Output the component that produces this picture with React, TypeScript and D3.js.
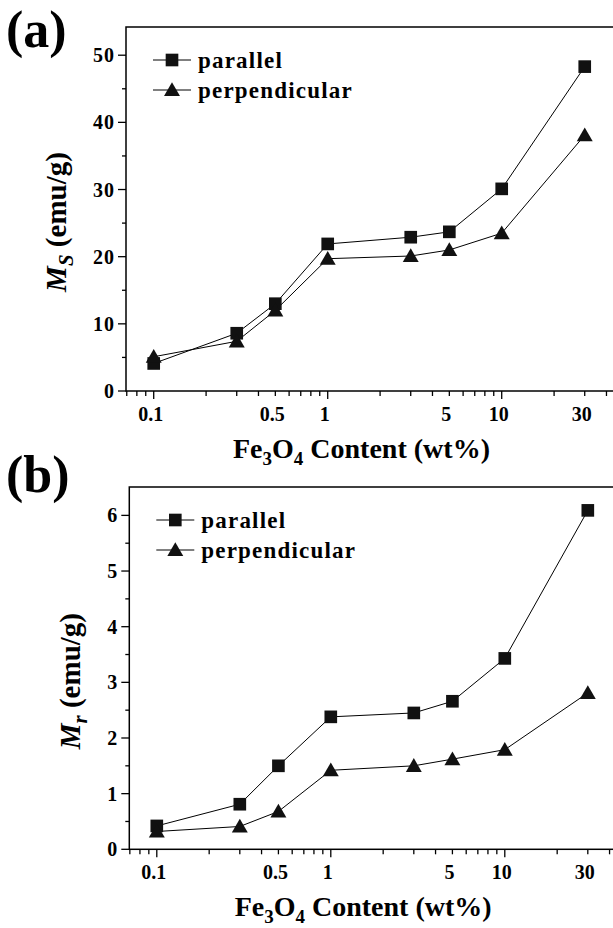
import React from "react";
import * as d3 from "d3";

// Fe3O4 content (wt%)
const contents = [0.1, 0.3, 0.5, 1, 3, 5, 10, 30];

// panel (a): saturation magnetization Ms (emu/g)
const msParallel = [4.1, 8.6, 13.0, 21.9, 22.9, 23.7, 30.1, 48.3];
const msPerpendicular = [5.1, 7.4, 12.0, 19.7, 20.1, 21.0, 23.5, 38.1];

// panel (b): remanent magnetization Mr (emu/g)
const mrParallel = [0.42, 0.81, 1.5, 2.38, 2.45, 2.66, 3.43, 6.09];
const mrPerpendicular = [0.32, 0.41, 0.68, 1.42, 1.5, 1.62, 1.79, 2.81];

const xLabels = [0.1, 0.5, 1, 5, 10, 30];
const xMajor = [0.1, 1, 10];
const yTicksA = [0, 10, 20, 30, 40, 50];
const yMinorA = [5, 15, 25, 35, 45];
const yTicksB = [0, 1, 2, 3, 4, 5, 6];
const yMinorB = [0.5, 1.5, 2.5, 3.5, 4.5, 5.5];

const seriesNames = ["parallel", "perpendicular"];

const FONT = "Liberation Serif";

const squarePath = d3.symbol(d3.symbolSquare, 160)()!;
const trianglePath = d3.symbol(d3.symbolTriangle, 110)()!;

type PanelProps = {
  tag: string;
  sub: string;
  parallel: number[];
  perpendicular: number[];
  yTicks: number[];
  yMinor: number[];
  yMax: number;
  left: number;
  top: number;
  bottom: number;
  xLeftValue: number;
  titleX: number;
  tagY: number;
};

const Panel = (p: PanelProps) => {
  const x = d3
    .scaleLog()
    .domain([p.xLeftValue, 50])
    .range([p.left, p.left + 174 * Math.log10(50 / p.xLeftValue)]);
  const y = d3.scaleLinear().domain([0, p.yMax]).range([p.bottom, p.top]);
  const right = x.range()[1];

  const line = d3
    .line<number>()
    .x((_, i) => x(contents[i]))
    .y((d) => y(d));

  const minorX = x.ticks().filter((t) => t >= p.xLeftValue && t <= 50);
  const fmt = (v: number) => String(v);

  const legendY = [p.top + 33, p.top + 63];
  const midY = p.top + (p.bottom - p.top) / 2 + 13;

  return (
    <g fontFamily={FONT} fontWeight="bold">
      <text x={6} y={p.tagY} fontSize={52}>
        {p.tag}
      </text>

      {/* frame */}
      <rect
        x={p.left}
        y={p.top}
        width={right - p.left}
        height={p.bottom - p.top}
        fill="none"
        stroke="#000"
        strokeWidth={1.5}
      />

      {/* x ticks */}
      {minorX.map((t) => (
        <line
          key={"xm" + t}
          x1={x(t)}
          x2={x(t)}
          y1={p.bottom}
          y2={p.bottom + (xMajor.includes(t) ? 8 : 5)}
          stroke="#000"
          strokeWidth={1.3}
        />
      ))}
      {xLabels.map((t) => (
        <text key={"xl" + t} x={x(t) - 3} y={p.bottom + 30} textAnchor="middle" fontSize={20}>
          {fmt(t)}
        </text>
      ))}

      {/* y ticks */}
      {p.yTicks.map((t) => (
        <g key={"y" + t}>
          <line x1={p.left - 8} x2={p.left} y1={y(t)} y2={y(t)} stroke="#000" strokeWidth={1.3} />
          <text x={p.left - 11} y={y(t) + 7} textAnchor="end" fontSize={20} letterSpacing={1}>
            {fmt(t)}
          </text>
        </g>
      ))}
      {p.yMinor.map((t) => (
        <line key={"ym" + t} x1={p.left - 4} x2={p.left} y1={y(t)} y2={y(t)} stroke="#000" strokeWidth={1.3} />
      ))}

      {/* axis titles */}
      <text x={(p.left + 613) / 2 - 8} y={p.bottom + 67} textAnchor="middle" fontSize={28}>
        Fe
        <tspan dy={7} fontSize={19}>3</tspan>
        <tspan dy={-7}>O</tspan>
        <tspan dy={7} fontSize={19}>4</tspan>
        <tspan dy={-7}> Content (wt%)</tspan>
      </text>
      <text
        transform={`translate(${p.titleX},${midY}) rotate(-90)`}
        textAnchor="middle"
        fontSize={29}
      >
        <tspan fontStyle="italic">M</tspan>
        <tspan fontStyle="italic" dy={7} fontSize={21}>{p.sub}</tspan>
        <tspan dy={-7}> (emu/g)</tspan>
      </text>

      {/* series */}
      <path d={line(p.parallel) ?? ""} fill="none" stroke="#000" strokeWidth={1} />
      <path d={line(p.perpendicular) ?? ""} fill="none" stroke="#000" strokeWidth={1} />
      {p.parallel.map((v, i) => (
        <path key={"sq" + i} d={squarePath} transform={`translate(${x(contents[i])},${y(v)})`} fill="#111" />
      ))}
      {p.perpendicular.map((v, i) => (
        <path key={"tr" + i} d={trianglePath} transform={`translate(${x(contents[i])},${y(v) + 1.5})`} fill="#111" />
      ))}

      {/* legend */}
      {seriesNames.map((name, i) => (
        <g key={name}>
          <line x1={p.left + 27} x2={p.left + 65} y1={legendY[i]} y2={legendY[i]} stroke="#000" strokeWidth={1} />
          <path
            d={i === 0 ? squarePath : trianglePath}
            transform={`translate(${p.left + 46},${legendY[i] + (i === 0 ? 0 : 1.5)})`}
            fill="#111"
          />
          <text x={p.left + 72} y={legendY[i] + 8} fontSize={23} letterSpacing={1.2}>
            {name}
          </text>
        </g>
      ))}
    </g>
  );
};

export default function App() {
  return (
    <svg width={613} height={928} style={{ position: "absolute", left: 0, top: 0, background: "#fff" }}>
      <Panel
        tag="(a)"
        sub="S"
        parallel={msParallel}
        perpendicular={msPerpendicular}
        yTicks={yTicksA}
        yMinor={yMinorA}
        yMax={54.2}
        left={126}
        top={27}
        bottom={391}
        xLeftValue={0.0693}
        titleX={66}
        tagY={47}
      />
      <Panel
        tag="(b)"
        sub="r"
        parallel={mrParallel}
        perpendicular={mrPerpendicular}
        yTicks={yTicksB}
        yMinor={yMinorB}
        yMax={6.51}
        left={129.3}
        top={487}
        bottom={849.3}
        xLeftValue={0.0695}
        titleX={80}
        tagY={492}
      />
    </svg>
  );
}
